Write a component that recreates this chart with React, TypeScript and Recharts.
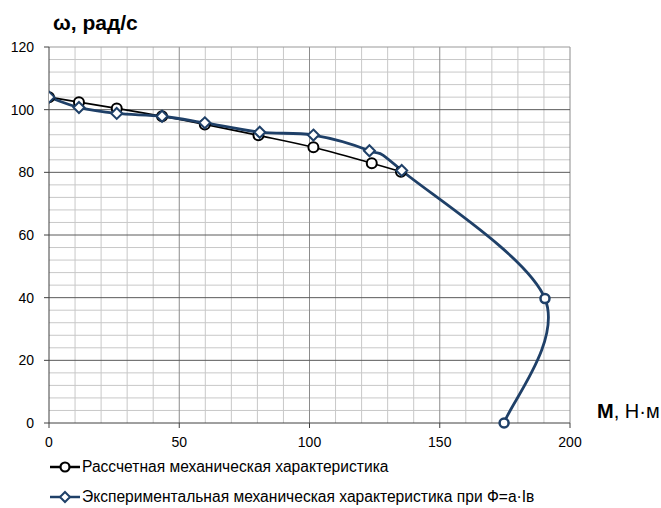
import React from 'react';
import { LineChart, Line, XAxis, YAxis, ReferenceLine } from 'recharts';

// calculated characteristic (black, circles)
const calcM = [0, 11.5, 26, 43.4, 59.8, 80.4, 101.5, 123.9, 135.1];
const calcW = [104, 102.4, 100.4, 97.9, 95.3, 91.8, 88.0, 82.9, 80.2];

// experimental characteristic (blue, diamonds), ends on the shared points
const expM = [0, 11.5, 26, 43.4, 59.8, 80.9, 101.5, 123, 135.4, 190.4, 174.7];
const expW = [104, 100.7, 98.8, 97.9, 95.8, 92.8, 91.9, 86.9, 80.6, 39.7, 0];

const xTicks = [0, 50, 100, 150, 200];
const yTicks = [0, 20, 40, 60, 80, 100, 120];
const minorX = [10, 20, 30, 40, 60, 70, 80, 90, 110, 120, 130, 140, 160, 170, 180, 190];
const minorY = [4, 8, 12, 16, 24, 28, 32, 36, 44, 48, 52, 56, 64, 68, 72, 76, 84, 88, 92, 96, 104, 108, 112, 116];

const legendNames = [
  'Рассчетная механическая характеристика',
  'Экспериментальная механическая характеристика при Ф=a·Iв',
];

const calcData = calcM.map((m, i) => ({ m, w: calcW[i] }));
const expData = expM.map((m, i) => ({ m, w: expW[i] }));

const BLUE = '#1f4068';
const FONT = '"Liberation Sans", Arial, sans-serif';

// Excel-like smoothed line (Catmull-Rom through the points)
function smoothCurve(context: any) {
  let pts: number[][] = [];
  return {
    areaStart() {},
    areaEnd() {},
    lineStart() {
      pts = [];
    },
    point(x: number, y: number) {
      pts.push([+x, +y]);
    },
    lineEnd() {
      if (!pts.length) return;
      context.moveTo(pts[0][0], pts[0][1]);
      for (let i = 0; i < pts.length - 1; i++) {
        const p0 = pts[i - 1] || pts[i];
        const p1 = pts[i];
        const p2 = pts[i + 1];
        const p3 = pts[i + 2] || p2;
        context.bezierCurveTo(
          p1[0] + (p2[0] - p0[0]) / 6,
          p1[1] + (p2[1] - p0[1]) / 6,
          p2[0] - (p3[0] - p1[0]) / 6,
          p2[1] - (p3[1] - p1[1]) / 6,
          p2[0],
          p2[1]
        );
      }
    },
  };
}

const Diamond = ({ cx, cy, color }: { cx: number; cy: number; color: string }) => (
  <path
    d={`M${cx},${cy - 5.5}L${cx + 5.5},${cy}L${cx},${cy + 5.5}L${cx - 5.5},${cy}Z`}
    fill="#fff"
    stroke={color}
    strokeWidth={2}
  />
);

const expDot = (props: any) => {
  const { cx, cy, index } = props;
  if (index >= 9) {
    return <circle key={`e${index}`} cx={cx} cy={cy} r={4.5} fill="#fff" stroke={BLUE} strokeWidth={2.5} />;
  }
  return <Diamond key={`e${index}`} cx={cx} cy={cy} color={BLUE} />;
};

const calcDot = (props: any) => {
  const { cx, cy, index } = props;
  return <circle key={`c${index}`} cx={cx} cy={cy} r={5} fill="#fff" stroke="#000" strokeWidth={2} />;
};

export default function App() {
  return (
    <div style={{ position: 'absolute', left: 0, top: 0, width: 661, height: 508, background: '#fff', fontFamily: FONT, overflow: 'hidden' }}>
      <LineChart
        width={661}
        height={508}
        margin={{ top: 47, right: 91, bottom: 55, left: 0 }}
        style={{ fontFamily: FONT }}
      >
        <XAxis
          type="number"
          dataKey="m"
          domain={[0, 200]}
          ticks={xTicks}
          allowDataOverflow
          height={30}
          stroke="#404040"
          tick={{ fill: '#000', fontSize: 14 }}
          tickSize={5}
          tickMargin={9}
        />
        <YAxis
          type="number"
          dataKey="w"
          domain={[0, 120]}
          ticks={yTicks}
          width={49}
          stroke="#404040"
          tick={{ fill: '#000', fontSize: 14 }}
          tickSize={5}
          tickMargin={10}
        />
        {minorX.map((v) => (
          <ReferenceLine key={`mx${v}`} x={v} stroke="#c8c8c8" strokeWidth={1} />
        ))}
        {minorY.map((v) => (
          <ReferenceLine key={`my${v}`} y={v} stroke="#c8c8c8" strokeWidth={1} />
        ))}
        {xTicks.slice(1).map((v) => (
          <ReferenceLine key={`Mx${v}`} x={v} stroke="#8c8c8c" strokeWidth={1} />
        ))}
        {yTicks.slice(1).map((v) => (
          <ReferenceLine key={`My${v}`} y={v} stroke={v === 120 ? '#999' : '#5a5a5a'} strokeWidth={1} />
        ))}
        <Line
          data={calcData}
          dataKey="w"
          type={smoothCurve as any}
          stroke="#000"
          strokeWidth={1.6}
          dot={calcDot}
          activeDot={false}
          isAnimationActive={false}
        />
        <Line
          data={expData}
          dataKey="w"
          type={smoothCurve as any}
          stroke={BLUE}
          strokeWidth={2.8}
          dot={expDot}
          activeDot={false}
          isAnimationActive={false}
        />
      </LineChart>

      <div style={{ position: 'absolute', left: 53, top: 11, fontSize: 21, fontWeight: 'bold', whiteSpace: 'nowrap' }}>
        ω, рад/с
      </div>
      <div style={{ position: 'absolute', left: 597, top: 400, fontSize: 20, whiteSpace: 'nowrap' }}>
        <b>М</b>, Н·м
      </div>

      {legendNames.map((name, i) => (
        <div
          key={name}
          style={{
            position: 'absolute',
            left: 49,
            top: 457 + i * 30,
            height: 20,
            lineHeight: '20px',
            display: 'flex',
            alignItems: 'center',
            fontSize: 15.6,
            whiteSpace: 'nowrap',
          }}
        >
          <svg width={33} height={20}>
            <line x1={1} y1={10} x2={31} y2={10} stroke={i === 0 ? '#000' : BLUE} strokeWidth={2.5} />
            {i === 0 ? (
              <circle cx={16} cy={10} r={4.5} fill="#fff" stroke="#000" strokeWidth={2.2} />
            ) : (
              <path d="M16,5L21,10L16,15L11,10Z" fill="#fff" stroke={BLUE} strokeWidth={2} />
            )}
          </svg>
          <span>{name}</span>
        </div>
      ))}
    </div>
  );
}
